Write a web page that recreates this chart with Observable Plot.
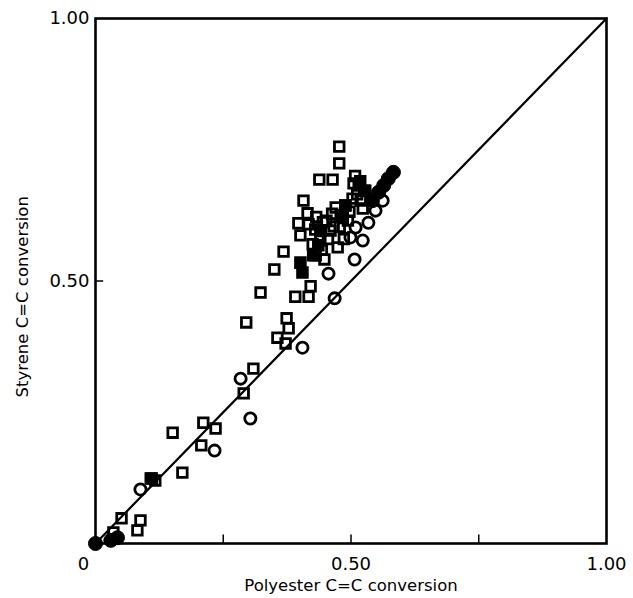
<!DOCTYPE html>
<html>
<head>
<meta charset="utf-8">
<script src="https://cdn.jsdelivr.net/npm/d3@7"></script>
<script src="https://cdn.jsdelivr.net/npm/@observablehq/plot@0.6"></script>
<style>
  html, body { margin: 0; padding: 0; background: #fff; }
  #chart svg { display: block; }
</style>
</head>
<body>
<div id="chart"></div>
<script>
// Open squares: polyester conversion (x), styrene conversion (y)
const squareX = [0.477,0.477,0.438,0.464,0.407,0.503,0.523,0.415,0.397,0.417,0.401,0.460,0.474,0.448,0.368,0.350,0.421,0.391,0.417,0.323,0.295,0.374,0.378,0.356,0.372,0.309,0.290,0.211,0.235,0.151,0.207,0.170,0.108,0.117,0.051,0.088,0.082,0.035,0.489,0.515,0.528,0.519,0.440,0.431,
  0.452,0.463,0.470,0.484,0.497,0.508,0.443,0.455,0.466,0.430,0.445,0.425,0.505,0.512,0.494,0.478,0.486,0.432];
const squareY = [0.756,0.724,0.693,0.693,0.653,0.657,0.638,0.629,0.610,0.608,0.587,0.596,0.564,0.541,0.556,0.522,0.490,0.470,0.470,0.478,0.421,0.429,0.410,0.392,0.381,0.333,0.286,0.230,0.219,0.211,0.187,0.135,0.124,0.120,0.048,0.044,0.025,0.021,0.644,0.682,0.672,0.653,0.577,0.549,
  0.615,0.628,0.640,0.620,0.632,0.700,0.560,0.580,0.604,0.598,0.612,0.570,0.686,0.665,0.615,0.603,0.580,0.622];
// Filled squares
const filledSquareX = [0.405,0.401,0.440,0.436,0.426,0.480,0.489,0.518,0.526,0.110];
const filledSquareY = [0.516,0.535,0.596,0.568,0.549,0.625,0.644,0.690,0.672,0.124];
// Open circles
const circleX = [0.548,0.534,0.509,0.499,0.523,0.507,0.456,0.468,0.405,0.284,0.303,0.233,0.088,0.562];
const circleY = [0.634,0.611,0.602,0.583,0.577,0.541,0.514,0.467,0.373,0.314,0.238,0.177,0.103,0.653];
// Filled circles
const filledCircleX = [0.583,0.573,0.564,0.554,0.542,0.0,0.043,0.030];
const filledCircleY = [0.707,0.695,0.682,0.669,0.653,0.0,0.011,0.006];
// Equal-conversion diagonal
const diagonal = [0, 1];
// Axis ticks and labels
const xTicks = [0.25, 0.5, 0.75];
const yTicks = [0.5];
const xLabelValues = [0.5, 1];
const xLabelTexts = ["0.50", "1.00"];
const originLabel = ["0"];
const yLabelValues = [0.5, 1];
const yLabelTexts = ["0.50", "1.00"];

const zip = (xs, ys) => xs.map((x, i) => ({x, y: ys[i]}));
const squares = zip(squareX, squareY);
const filledSquares = zip(filledSquareX, filledSquareY);
const circles = zip(circleX, circleY);
const filledCircles = zip(filledCircleX, filledCircleY);
const diag = diagonal.map(v => ({x: v, y: v}));
const xLabels = xLabelValues.map((v, i) => ({v, t: xLabelTexts[i]}));
const yLabels = yLabelValues.map((v, i) => ({v, t: yLabelTexts[i]}));

const font = "'DejaVu Sans', sans-serif";

const chart = Plot.plot({
  width: 633,
  height: 598,
  marginLeft: 95,
  marginRight: 27,
  marginTop: 18,
  marginBottom: 55,
  style: {fontFamily: font, fontSize: "16px", color: "#000", background: "#fff", overflow: "visible"},
  x: {domain: [0, 1], axis: null},
  y: {domain: [0, 1], axis: null},
  marks: [
    Plot.line(diag, {x: "x", y: "y", stroke: "#000", strokeWidth: 2.2}),
    Plot.ruleX(xTicks, {x: d => d, y1: 0, y2: 0.016, stroke: "#000", strokeWidth: 1.5}),
    Plot.ruleY(yTicks, {y: d => d, x1: 0, x2: 0.016, stroke: "#000", strokeWidth: 1.5}),
    Plot.dot(squares, {x: "x", y: "y", symbol: "square", r: 5.4, stroke: "#000", strokeWidth: 2.8, fill: "none"}),
    Plot.dot(filledSquares, {x: "x", y: "y", symbol: "square", r: 5.6, stroke: "#000", strokeWidth: 2.6, fill: "#000"}),
    Plot.dot(circles, {x: "x", y: "y", r: 5.6, stroke: "#000", strokeWidth: 2.8, fill: "none"}),
    Plot.dot(filledCircles, {x: "x", y: "y", r: 7, stroke: "#000", strokeWidth: 1, fill: "#000"}),
    Plot.frame({stroke: "#000", strokeWidth: 2.6}),
    Plot.text(xLabels, {x: "v", y: 0, text: "t", dy: 21, fontSize: 18, fill: "#000", textAnchor: "middle"}),
    Plot.text(originLabel, {x: 0, y: 0, text: d => d, dx: -12, dy: 21, fontSize: 18, fill: "#000", textAnchor: "middle"}),
    Plot.text(yLabels, {x: 0, y: "v", text: "t", dx: -6, fontSize: 18, fill: "#000", textAnchor: "end"}),
    Plot.text(["Polyester C=C conversion"], {x: 0.5, y: 0, text: d => d, dy: 42, fontSize: 16.5, fill: "#000"}),
    Plot.text(["Styrene C=C conversion"], {x: 0, y: 0.47, text: d => d, rotate: -90, dx: -73, fontSize: 16.5, fill: "#000"})
  ]
});
document.getElementById("chart").appendChild(chart);
</script>
</body>
</html>
